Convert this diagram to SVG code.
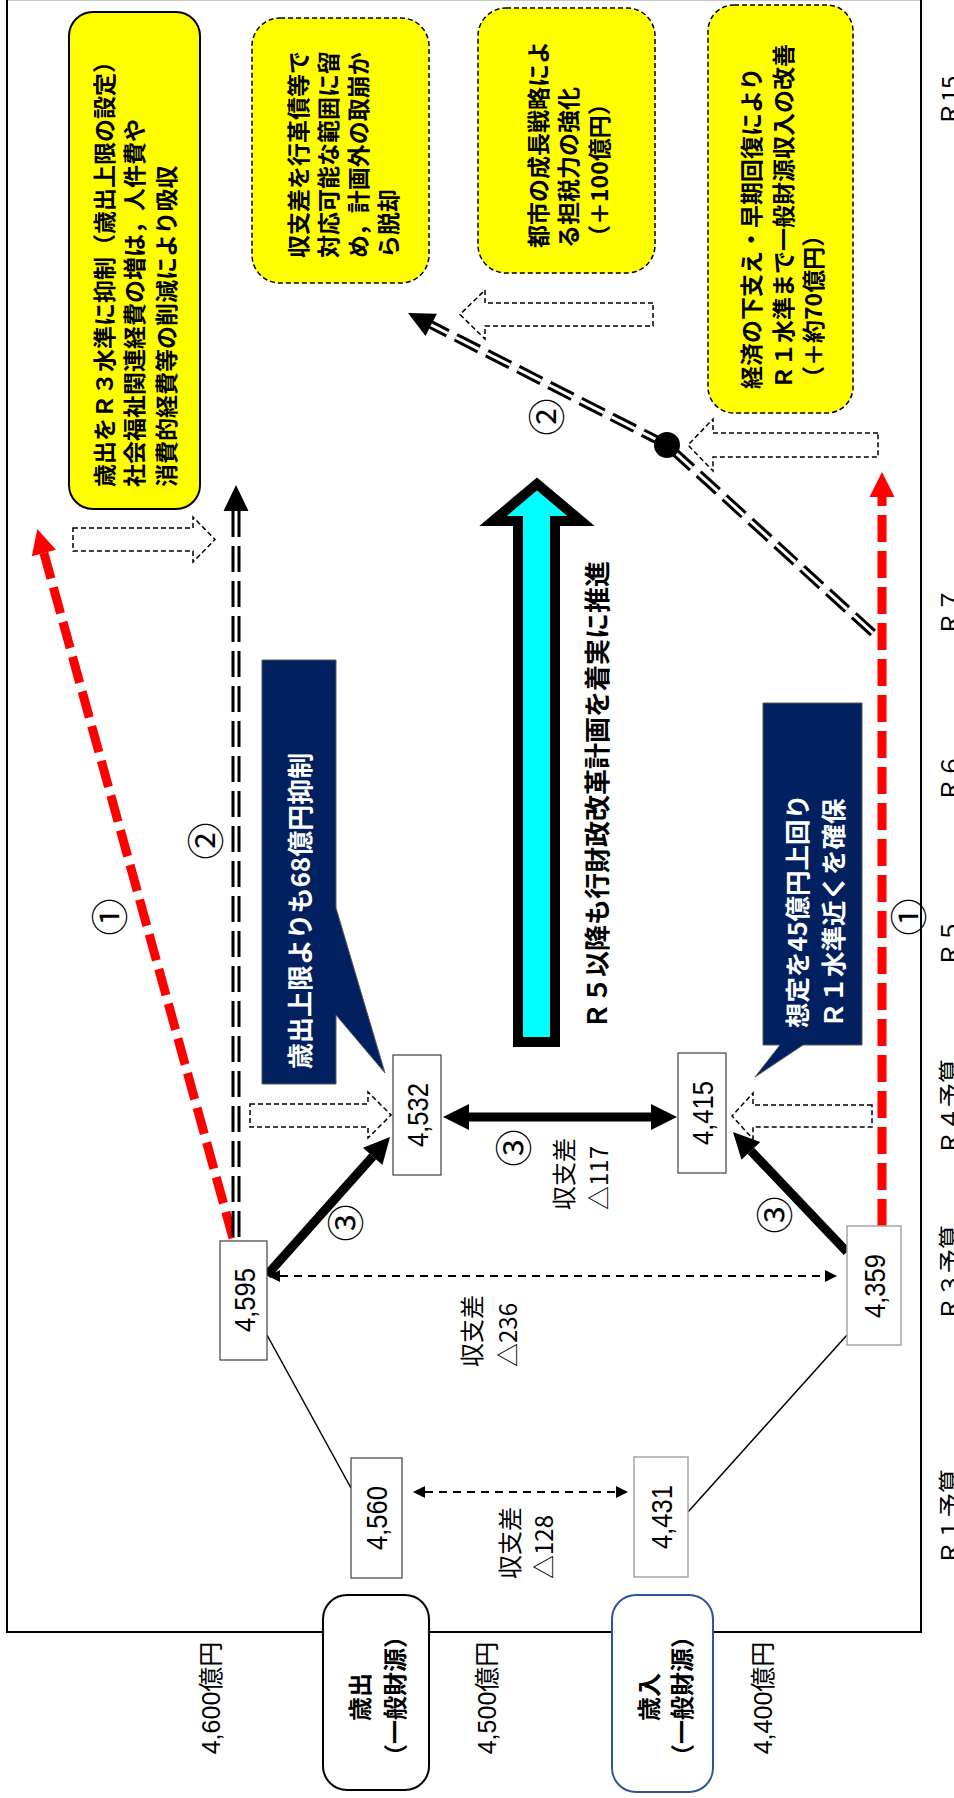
<svg xmlns="http://www.w3.org/2000/svg" width="954" height="1798" viewBox="0 0 954 1798">
<style>
.t{font-family:"Noto Sans CJK JP","Noto Sans CJK SC",sans-serif;}
.n{font-family:"Liberation Sans","Noto Sans CJK JP",sans-serif;}
.b{font-weight:bold;}
.c,.c tspan{dominant-baseline:central;}
.m{text-anchor:middle;}
.w{fill:#fff;}
.yb{fill:#ffff00;stroke:#000;stroke-width:1.5;stroke-dasharray:5 3;}
.hol{fill:#fff;stroke:#000;stroke-width:1.5;stroke-dasharray:5 3;}
.nb{fill:#fff;stroke:#404040;stroke-width:1.2;}
.nbg{fill:#fff;stroke:#a6a6a6;stroke-width:1.5;}
.navy{fill:#002060;stroke:#595959;stroke-width:1;}
.thick{stroke:#000;stroke-width:9;fill:none;}
.red{stroke:#ff0000;stroke-width:9;stroke-dasharray:27 9;fill:none;}
.dblk{stroke:#000;stroke-width:9;stroke-dasharray:26 9;fill:none;}
.dwht{stroke:#fff;stroke-width:3;stroke-dasharray:26 9;fill:none;}
.thin{stroke:#000;stroke-width:1.5;fill:none;}
.tdash{stroke:#000;stroke-width:2;stroke-dasharray:8 6;fill:none;}
</style>
<defs>
<marker id="mk" markerUnits="userSpaceOnUse" markerWidth="30" markerHeight="30" viewBox="0 -15 30 30" refX="0" refY="0" orient="auto-start-reverse" overflow="visible"><path d="M0,-13 L26,0 L0,13 Z" fill="#000"/></marker>
<marker id="md" markerUnits="userSpaceOnUse" markerWidth="30" markerHeight="30" viewBox="0 -15 30 30" refX="0" refY="0" orient="auto" overflow="visible"><path d="M0,-12.5 L26,0 L0,12.5 Z" fill="#000"/></marker>
<marker id="mr" markerUnits="userSpaceOnUse" markerWidth="30" markerHeight="30" viewBox="0 -15 30 30" refX="0" refY="0" orient="auto" overflow="visible"><path d="M0,-12.5 L25,0 L0,12.5 Z" fill="#ff0000"/></marker>
<marker id="mt" markerUnits="userSpaceOnUse" markerWidth="14" markerHeight="14" viewBox="0 -7 14 14" refX="0" refY="0" orient="auto-start-reverse" overflow="visible"><path d="M0,-6 L12,0 L0,6 Z" fill="#000"/></marker>
</defs>

<rect width="954" height="1798" fill="#fff"/>
<g id="frame">
<path d="M7,0.5 H921" stroke="#c8c8c8" stroke-width="1" fill="none"/>
<path d="M7,0 V1632 H921 V0" stroke="#000" stroke-width="2" fill="none"/>
</g>

<g id="note-expenditure-cap">
<rect x="69" y="12" width="131" height="497" rx="24" fill="#ffff00" stroke="#000" stroke-width="2"/>
<text class="t b c" font-size="23" transform="translate(103 487) rotate(-90)"><tspan x="0" y="0">歳出をＲ３水準に抑制（歳出上限の設定）</tspan><tspan x="0" y="30">社会福祉関連経費の増は，人件費や</tspan><tspan x="0" y="62">消費的経費等の削減により吸収</tspan></text>
</g>
<g id="note-reform-bonds">
<rect class="yb" x="252" y="18" width="177" height="265" rx="28"/>
<text class="t b c" font-size="23" transform="translate(297 258) rotate(-90)"><tspan x="0" y="0">収支差を行革債等で</tspan><tspan x="0" y="30">対応可能な範囲に留</tspan><tspan x="0" y="60">め，計画外の取崩か</tspan><tspan x="0" y="90">ら脱却</tspan></text>
</g>
<g id="note-growth">
<rect class="yb" x="478" y="8" width="177" height="265" rx="28"/>
<text class="t b c" font-size="23" transform="translate(537 248) rotate(-90)"><tspan x="0" y="0">都市の成長戦略によ</tspan><tspan x="0" y="30">る担税力の強化</tspan><tspan x="0" y="61">（＋100億円）</tspan></text>
</g>
<g id="note-economy">
<rect class="yb" x="708" y="5" width="145" height="408" rx="26"/>
<text class="t b c" font-size="23" transform="translate(750 389) rotate(-90)"><tspan x="0" y="0">経済の下支え・早期回復により</tspan><tspan x="0" y="32">Ｒ１水準まで一般財源収入の改善</tspan><tspan x="0" y="62">（＋約70億円）</tspan></text>
</g>

<g id="callout-cap">
<polygon class="navy" points="262,660 336,660 336,908 385,1073 336,1015 336,1084 262,1084"/>
<text class="t b c w" font-size="26" transform="translate(298 1069) rotate(-90)">歳出上限よりも68億円抑制</text>
</g>
<g id="callout-revenue">
<polygon class="navy" points="763,703 862,703 862,1045 803,1045 755,1077 780,1045 763,1045"/>
<text class="t b c w" font-size="25.5" transform="translate(795 1028) rotate(-90)"><tspan x="0" y="0">想定を45億円上回り</tspan><tspan x="0" y="36">Ｒ１水準近くを確保</tspan></text>
</g>

<g id="reform-arrow">
<polygon points="518,1042 555,1042 555,521 581,521 537,484 493,521 518,521" fill="#00ffff" stroke="#000" stroke-width="10" stroke-linejoin="miter"/>
<text class="t b c" font-size="26" transform="translate(595 1029) rotate(-90)">Ｒ５以降も行財政改革計画を着実に推進</text>
</g>

<g id="hollow-arrows">
<polygon class="hol" points="73,528 193,528 193,517 215,539.5 193,562 193,551 73,551"/>
<polygon class="hol" points="653,303 485,303 485,290 460,314.5 485,339 485,326 653,326"/>
<polygon class="hol" points="878,433 713,433 713,419 688,445 713,471 713,457 878,457"/>
<polygon class="hol" points="250,1104 368,1104 368,1092 391,1115 368,1138 368,1127 250,1127"/>
<polygon class="hol" points="872,1105 753,1105 753,1093 732,1116 753,1139 753,1127 872,1127"/>
</g>

<g id="connectors">
<line class="thin" x1="267" y1="1335" x2="351" y2="1488"/>
<line class="thin" x1="847" y1="1335" x2="688" y2="1512"/>
<line class="tdash" x1="280" y1="1276" x2="825" y2="1276" marker-start="url(#mt)" marker-end="url(#mt)"/>
<line class="tdash" x1="425" y1="1492" x2="616" y2="1492" marker-start="url(#mt)" marker-end="url(#mt)"/>
<line class="red" x1="233" y1="1238" x2="43.9" y2="553" marker-end="url(#mr)"/>
<line class="red" x1="882" y1="1226" x2="882" y2="497" marker-end="url(#mr)"/>
<path class="dblk" d="M236,1237 V511" marker-end="url(#md)"/>
<path class="dwht" d="M236,1237 V511"/>
<path class="dblk" d="M873,633 L667,445 L431.2,324.8" marker-end="url(#md)"/>
<path class="dwht" d="M873,633 L667,445 L431.2,324.8"/>
<circle cx="667" cy="445" r="13" fill="#000"/>
<line class="thick" x1="267" y1="1275" x2="372.7" y2="1156.4" marker-end="url(#mk)"/>
<line class="thick" x1="847" y1="1252" x2="750.9" y2="1150.9" marker-end="url(#mk)"/>
<line class="thick" x1="469" y1="1117" x2="651" y2="1117" marker-start="url(#mk)" marker-end="url(#mk)"/>
</g>

<g id="labels-circled">
<text class="t c m" font-size="37" transform="translate(108 917) rotate(-90)">①</text>
<text class="t c m" font-size="37" transform="translate(204 841) rotate(-90)">②</text>
<text class="t c m" font-size="37" transform="translate(545 417) rotate(-90)">②</text>
<text class="t c m" font-size="37" transform="translate(907 917) rotate(-90)">①</text>
<text class="t c m" font-size="37" transform="translate(344 1223) rotate(-90)">③</text>
<text class="t c m" font-size="37" transform="translate(512 1148) rotate(-90)">③</text>
<text class="t c m" font-size="37" transform="translate(773 1215) rotate(-90)">③</text>
</g>

<g id="node-4595"><rect class="nb" x="220" y="1241" width="47" height="119"/><text class="n c m" font-size="30" textLength="64" lengthAdjust="spacingAndGlyphs" transform="translate(244 1300) rotate(-90)">4,595</text></g>
<g id="node-4532"><rect class="nb" x="393" y="1055" width="48" height="120"/><text class="n c m" font-size="30" textLength="64" lengthAdjust="spacingAndGlyphs" transform="translate(417 1115) rotate(-90)">4,532</text></g>
<g id="node-4415"><rect class="nb" x="678" y="1053" width="48" height="120"/><text class="n c m" font-size="30" textLength="64" lengthAdjust="spacingAndGlyphs" transform="translate(702 1113) rotate(-90)">4,415</text></g>
<g id="node-4359"><rect class="nbg" x="847" y="1226" width="54" height="119"/><text class="n c m" font-size="30" textLength="64" lengthAdjust="spacingAndGlyphs" transform="translate(874 1286) rotate(-90)">4,359</text></g>
<g id="node-4560"><rect class="nb" x="351" y="1458" width="51" height="120"/><text class="n c m" font-size="30" textLength="64" lengthAdjust="spacingAndGlyphs" transform="translate(376.5 1518) rotate(-90)">4,560</text></g>
<g id="node-4431"><rect class="nbg" x="634" y="1457" width="54" height="120"/><text class="n c m" font-size="30" textLength="64" lengthAdjust="spacingAndGlyphs" transform="translate(661 1517) rotate(-90)">4,431</text></g>

<g id="gap-labels">
<text class="t c" font-size="24" transform="translate(470 1367) rotate(-90)"><tspan x="0" y="0">収支差</tspan><tspan x="0" y="36">△236</tspan></text>
<text class="t c" font-size="24" transform="translate(562 1210) rotate(-90)"><tspan x="0" y="0">収支差</tspan><tspan x="0" y="35">△117</tspan></text>
<text class="t c" font-size="24" transform="translate(508 1579) rotate(-90)"><tspan x="0" y="0">収支差</tspan><tspan x="0" y="34">△128</tspan></text>
</g>

<g id="legend-expenditure">
<rect x="323" y="1595" width="106" height="195" rx="24" fill="#fff" stroke="#000" stroke-width="2"/>
<text class="t b c m" font-size="24" transform="translate(358 1697) rotate(-90)">歳出</text>
<text class="t b c m" font-size="24" transform="translate(393 1696) rotate(-90)">（一般財源）</text>
</g>
<g id="legend-revenue">
<rect x="612" y="1595" width="101" height="197" rx="24" fill="#fff" stroke="#2f5597" stroke-width="2"/>
<text class="t b c m" font-size="24" transform="translate(647 1697) rotate(-90)">歳入</text>
<text class="t b c m" font-size="24" transform="translate(680 1696) rotate(-90)">（一般財源）</text>
</g>

<g id="axis-values">
<text class="n c m" font-size="25" transform="translate(211 1698) rotate(-90)">4,600億円</text>
<text class="n c m" font-size="25" transform="translate(487 1698) rotate(-90)">4,500億円</text>
<text class="n c m" font-size="25" transform="translate(763 1698) rotate(-90)">4,400億円</text>
</g>

<g id="axis-years">
<text class="t m" font-size="24" transform="translate(959 1517) rotate(-90)">Ｒ１予算</text>
<text class="t m" font-size="24" transform="translate(959 1273) rotate(-90)">Ｒ３予算</text>
<text class="t m" font-size="24" transform="translate(959 1107) rotate(-90)">Ｒ４予算</text>
<text class="t m" font-size="24" transform="translate(959 943) rotate(-90)">Ｒ５</text>
<text class="t m" font-size="24" transform="translate(959 778) rotate(-90)">Ｒ６</text>
<text class="t m" font-size="24" transform="translate(959 612) rotate(-90)">Ｒ７</text>
<text class="t m" font-size="24" transform="translate(959 101) rotate(-90)">Ｒ15</text>
</g>
</svg>
